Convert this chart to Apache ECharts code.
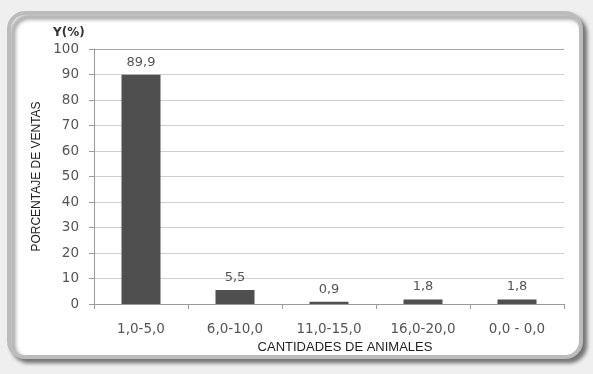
<!DOCTYPE html>
<html>
<head>
<meta charset="utf-8">
<script src="https://cdn.jsdelivr.net/npm/echarts@6/dist/echarts.min.js"></script>
<style>
  html, body { margin: 0; padding: 0; background: #efefef; }
  #chart { width: 593px; height: 374px; }
</style>
</head>
<body>
<div id="chart"></div>
<script>
// Sales share by herd size
const categories = ['1,0-5,0', '6,0-10,0', '11,0-15,0', '16,0-20,0', '0,0 - 0,0'];
const salesPct = [89.9, 5.5, 0.9, 1.8, 1.8];
const yTicks = [0, 10, 20, 30, 40, 50, 60, 70, 80, 90, 100];

const chart = echarts.init(document.getElementById('chart'), null, { renderer: 'canvas' });

const tickFont = 'DejaVu Sans, Verdana, sans-serif';
const nameFont = 'Liberation Sans, Arial, sans-serif';

chart.setOption({
  backgroundColor: '#efefef',
  animation: false,
  graphic: [
    {
      type: 'rect',
      z: -10,
      shape: { x: 9, y: 13, width: 572, height: 344, r: 16 },
      style: {
        fill: '#ffffff',
        stroke: '#bcbcbc',
        lineWidth: 4,
        shadowColor: 'rgba(0,0,0,0.45)',
        shadowBlur: 4,
        shadowOffsetX: 4,
        shadowOffsetY: 4
      }
    },
    {
      type: 'text',
      left: 53,
      top: 27,
      style: {
        text: 'Y(%)',
        font: 'bold 12px ' + tickFont,
        fill: '#333333'
      }
    }
  ],
  grid: { left: 94, right: 29, top: 49, bottom: 70, containLabel: false },
  xAxis: {
    type: 'category',
    data: categories,
    name: 'CANTIDADES DE ANIMALES',
    nameLocation: 'middle',
    nameGap: 37,
    nameTextStyle: {
      fontFamily: nameFont,
      fontSize: 13,
      color: '#222222',
      padding: [0, 0, 0, 32]
    },
    axisLine: { lineStyle: { color: '#9a9a9a', width: 1 } },
    axisTick: { show: true, length: 5, lineStyle: { color: '#9a9a9a' } },
    axisLabel: {
      fontFamily: tickFont,
      fontSize: 13.5,
      color: '#555555',
      margin: 18
    }
  },
  yAxis: {
    type: 'value',
    min: yTicks[0],
    max: yTicks[yTicks.length - 1],
    interval: yTicks[1] - yTicks[0],
    name: 'PORCENTAJE DE VENTAS',
    nameLocation: 'middle',
    nameGap: 51,
    nameTextStyle: {
      fontFamily: nameFont,
      fontSize: 12,
      color: '#222222'
    },
    axisLine: { show: true, lineStyle: { color: '#9a9a9a', width: 1 } },
    axisTick: { show: true, length: 5, lineStyle: { color: '#9a9a9a' } },
    axisLabel: {
      fontFamily: tickFont,
      fontSize: 13.5,
      color: '#555555',
      margin: 15
    },
    splitLine: {
      lineStyle: {
        color: ['#cfcfcf', '#cfcfcf', '#cfcfcf', '#cfcfcf', '#cfcfcf', '#cfcfcf',
                '#cfcfcf', '#cfcfcf', '#cfcfcf', '#cfcfcf', '#a8a8a8'],
        width: 1
      }
    }
  },
  series: [
    {
      type: 'bar',
      data: salesPct,
      barWidth: 39,
      itemStyle: { color: '#4f4f4f' },
      label: {
        show: true,
        position: 'top',
        distance: 6,
        fontFamily: tickFont,
        fontSize: 13,
        color: '#555555',
        formatter: p => p.value.toFixed(1).replace('.', ',')
      }
    }
  ]
});
</script>
</body>
</html>
